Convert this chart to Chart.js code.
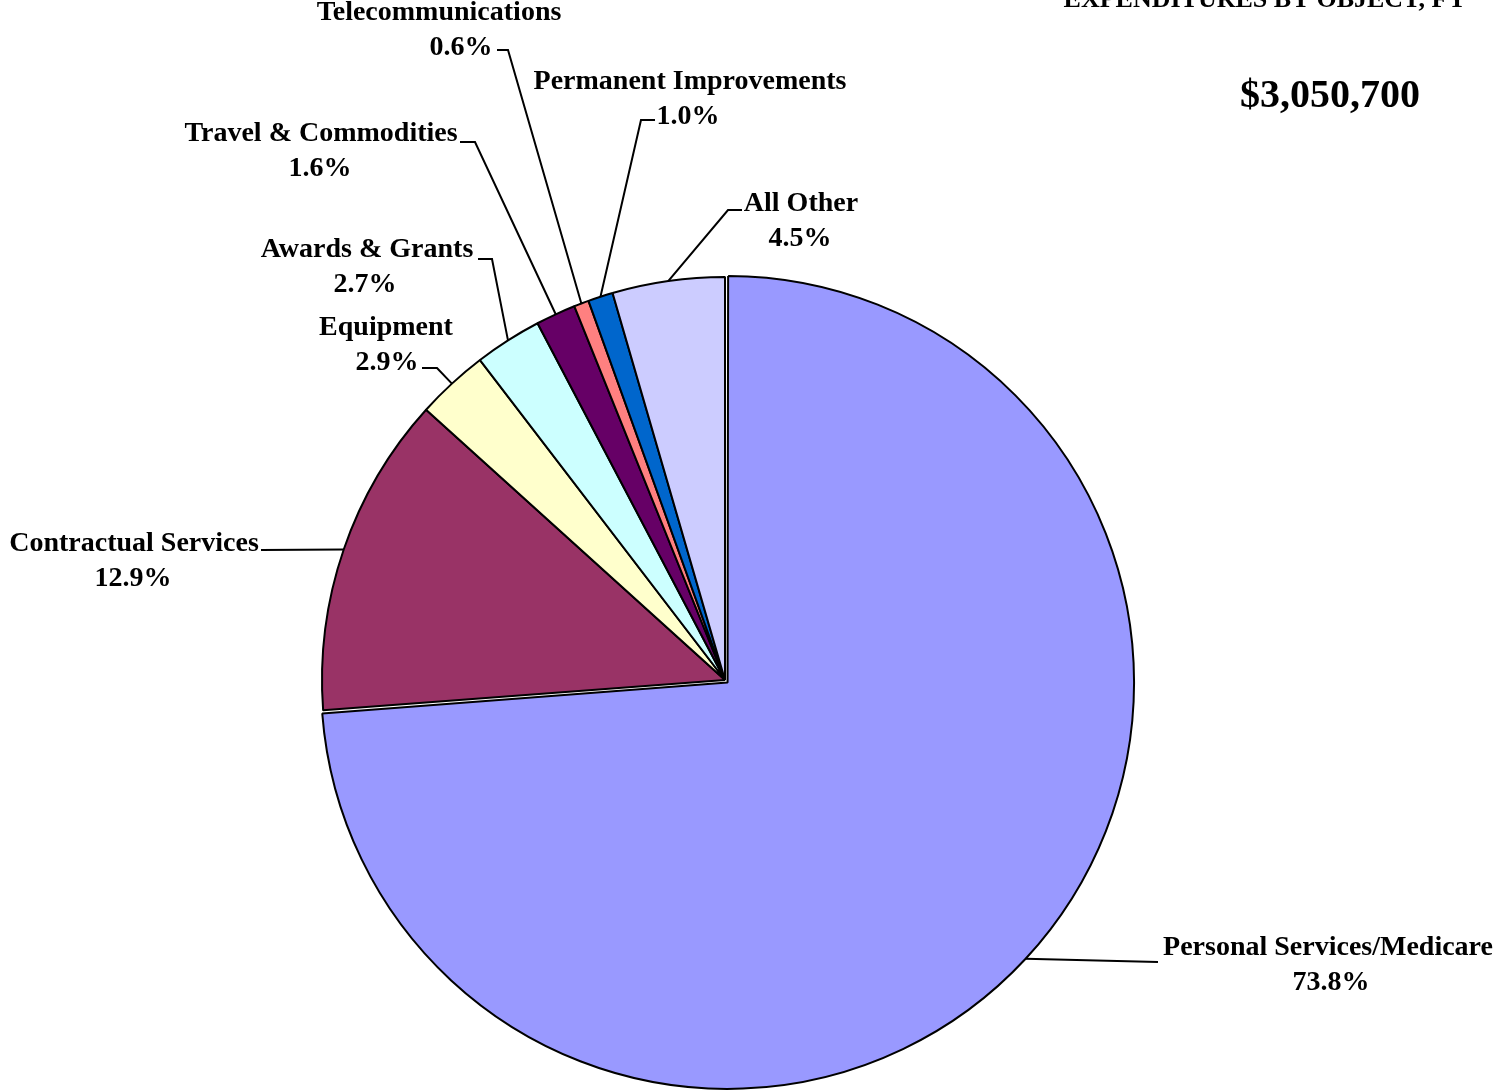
<!DOCTYPE html>
<html>
<head>
<meta charset="utf-8">
<script src="https://cdn.jsdelivr.net/npm/chart.js@4/dist/chart.umd.min.js"></script>
<style>
  html, body { margin: 0; padding: 0; background: #fff; }
  #wrap { width: 1495px; height: 1091px; }
</style>
</head>
<body>
<div id="wrap"><canvas id="pieChart" width="1495" height="1091"></canvas></div>
<script>
const categorias = ["Personal Services/Medicare", "Contractual Services", "Equipment", "Awards & Grants",
  "Travel & Commodities", "Telecommunications", "Permanent Improvements", "All Other"];
const porcentajes = [73.8, 12.9, 2.9, 2.7, 1.6, 0.6, 1.0, 4.5];
const colores = ["#9999FF", "#993366", "#FFFFCC", "#CCFFFF", "#660066", "#FF8080", "#0066CC", "#CCCCFF"];
const desplazamiento = [14, 0, 0, 0, 0, 0, 0, 0];
const titulo = "EXPENDITURES BY OBJECT, FY";
const total = "$3,050,700";

// where each label sits and the bend of its leader line (the line ends on the slice)
const etiquetasPos = [
  { x1: 1328, x2: 1331, y: 948, linea: [[1158, 962]] },
  { x1: 134, x2: 133, y: 544, linea: [[261, 550]] },
  { x1: 386, x2: 387, y: 328, linea: [[422, 368], [437, 368]] },
  { x1: 367, x2: 365, y: 250, linea: [[478, 259], [492, 259]] },
  { x1: 321, x2: 320, y: 134, linea: [[460, 142], [475, 142]] },
  { x1: 439, x2: 461, y: 13, linea: [[497, 50], [508, 50]] },
  { x1: 690, x2: 688, y: 82, linea: [[655, 120], [641, 120]] },
  { x1: 801, x2: 800, y: 204, linea: [[742, 210], [728, 210]] }
];

const etiquetasPlugin = {
  id: 'etiquetas',
  afterDatasetsDraw(chart) {
    const ctx = chart.ctx;
    const meta = chart.getDatasetMeta(0);
    ctx.save();
    ctx.fillStyle = '#000';
    ctx.strokeStyle = '#000';
    ctx.lineWidth = 2;
    meta.data.forEach((arc, i) => {
      const p = etiquetasPos[i];
      const mid = (arc.startAngle + arc.endAngle) / 2;
      // same shift the arc element applies when it is offset
      const circ = arc.endAngle - arc.startAngle;
      const off = desplazamiento[i] / 4 * (2 - Math.sin(Math.min(Math.PI, circ)));
      const r = arc.outerRadius;
      const ax = arc.x + Math.cos(mid) * (r + off);
      const ay = arc.y + Math.sin(mid) * (r + off);
      ctx.beginPath();
      ctx.moveTo(p.linea[0][0], p.linea[0][1]);
      for (let k = 1; k < p.linea.length; k++) ctx.lineTo(p.linea[k][0], p.linea[k][1]);
      ctx.lineTo(ax, ay);
      ctx.stroke();
      ctx.font = 'bold 28px "Liberation Serif", "Times New Roman", serif';
      ctx.textAlign = 'center';
      ctx.textBaseline = 'middle';
      ctx.fillText(categorias[i], p.x1, p.y);
      ctx.fillText(porcentajes[i].toFixed(1) + '%', p.x2, p.y + 35);
    });
    ctx.font = 'bold 26px "Liberation Serif", "Times New Roman", serif';
    ctx.textAlign = 'left';
    ctx.textBaseline = 'alphabetic';
    const anchoComa = ctx.measureText("EXPENDITURES BY OBJECT,").width;
    ctx.fillText(titulo, 1425 - anchoComa, 7);
    ctx.font = 'bold 40px "Liberation Serif", "Times New Roman", serif';
    ctx.textAlign = 'center';
    ctx.textBaseline = 'middle';
    ctx.fillText(total, 1330, 97);
    ctx.restore();
  }
};

const ctxPie = document.getElementById('pieChart').getContext('2d');
const configuracion = {
  type: 'pie',
  data: {
    labels: categorias,
    datasets: [{
      data: porcentajes,
      backgroundColor: colores,
      borderColor: '#000',
      borderWidth: 2,
      offset: desplazamiento,
      radius: 403
    }]
  },
  options: {
    responsive: false,
    animation: false,
    layout: { padding: { left: 0, right: 45, top: 269, bottom: 0 } },
    plugins: {
      legend: { display: false },
      tooltip: { enabled: false }
    }
  },
  plugins: [etiquetasPlugin]
};
const pieChart = new Chart(ctxPie, configuracion);
</script>
</body>
</html>
